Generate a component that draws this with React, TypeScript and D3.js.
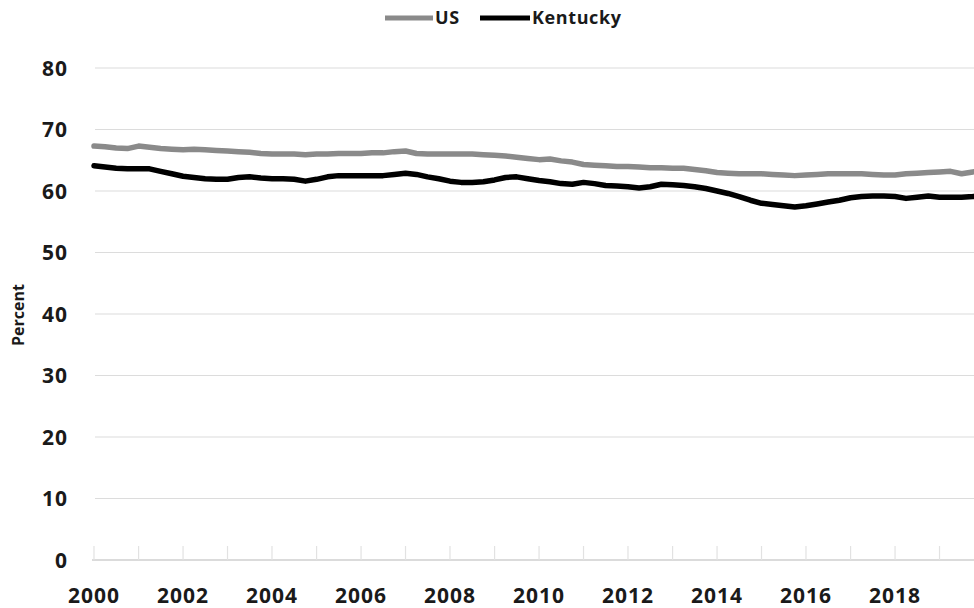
import React from 'react';
import * as d3 from 'd3';

const seriesNames = ['US', 'Kentucky'];
const seriesColors = ['#8a8a8a', '#000000'];

// Quarterly readings (Jan, Apr, Jul, Oct of each year 2000-2019) plus Dec 2019
const usValues = [
  67.3, 67.2, 67.0, 66.9,
  67.3, 67.1, 66.9, 66.8,
  66.7, 66.8, 66.7, 66.6,
  66.5, 66.4, 66.3, 66.1,
  66.0, 66.0, 66.0, 65.9,
  66.0, 66.0, 66.1, 66.1,
  66.1, 66.2, 66.2, 66.4,
  66.5, 66.1, 66.0, 66.0,
  66.0, 66.0, 66.0, 65.9,
  65.8, 65.7, 65.5, 65.3,
  65.1, 65.2, 64.9, 64.7,
  64.3, 64.2, 64.1, 64.0,
  64.0, 63.9, 63.8, 63.8,
  63.7, 63.7, 63.5, 63.3,
  63.0, 62.9, 62.8, 62.8,
  62.8, 62.7, 62.6, 62.5,
  62.6, 62.7, 62.8, 62.8,
  62.8, 62.8, 62.7, 62.6,
  62.6, 62.8, 62.9, 63.0,
  63.1, 63.2, 62.8, 63.1,
  63.2,
];

const kyValues = [
  64.1, 63.9, 63.7, 63.6,
  63.6, 63.6, 63.2, 62.8,
  62.4, 62.2, 62.0, 61.9,
  61.9, 62.2, 62.3, 62.1,
  62.0, 62.0, 61.9, 61.6,
  61.9, 62.3, 62.5, 62.5,
  62.5, 62.5, 62.5, 62.7,
  62.9, 62.7, 62.3, 62.0,
  61.6, 61.4, 61.4, 61.5,
  61.8, 62.2, 62.3, 62.0,
  61.7, 61.5, 61.2, 61.1,
  61.4, 61.2, 60.9, 60.8,
  60.7, 60.5, 60.7, 61.1,
  61.0, 60.9, 60.7, 60.4,
  60.0, 59.6, 59.1, 58.5,
  58.0, 57.8, 57.6, 57.4,
  57.6, 57.9, 58.2, 58.5,
  58.9, 59.1, 59.2, 59.2,
  59.1, 58.8, 59.0, 59.2,
  59.0, 59.0, 59.0, 59.1,
  59.2,
];

const yTicks = [0, 10, 20, 30, 40, 50, 60, 70, 80];
const xLabelYears = [2000, 2002, 2004, 2006, 2008, 2010, 2012, 2014, 2016, 2018];
const tickYears = [2000, 2001, 2002, 2003, 2004, 2005, 2006, 2007, 2008, 2009, 2010,
  2011, 2012, 2013, 2014, 2015, 2016, 2017, 2018, 2019];

const dates = usValues.map((_, i) =>
  i < 80 ? new Date(2000 + Math.floor(i / 4), (i % 4) * 3, 1) : new Date(2019, 11, 1)
);

const W = 974;
const H = 608;
const FONT = '"Open Sans", "Liberation Sans", sans-serif';

export default function App() {
  const x = d3.scaleTime()
    .domain([new Date(2000, 0, 1), new Date(2020, 0, 1)])
    .range([94, 984]);
  const y = d3.scaleLinear().domain([0, 80]).range([560, 68]);

  const line = d3.line<number>()
    .x((_, i) => x(dates[i]))
    .y((d) => y(d))
    .curve(d3.curveLinear);

  const series = [usValues, kyValues];

  return (
    <svg width={W} height={H} style={{ position: 'absolute', left: 0, top: 0, background: '#fff' }}>
      <rect x={0} y={0} width={W} height={H} fill="#fff" />
      {yTicks.map((t) => (
        <g key={t}>
          {t > 0 && (
            <line x1={95} x2={W} y1={y(t)} y2={y(t)} stroke="#dcdcdc" strokeWidth={1.2} />
          )}
          <text
            x={68}
            y={y(t)}
            dy="0.36em"
            textAnchor="end"
            fontFamily={FONT}
            fontWeight={700}
            fontSize={21}
            letterSpacing={1}
            fill="#1a1a1a"
          >
            {t}
          </text>
        </g>
      ))}
      <line x1={92} x2={W} y1={y(0)} y2={y(0)} stroke="#cfcfcf" strokeWidth={1.4} />
      {tickYears.map((yr) => (
        <line
          key={yr}
          x1={x(new Date(yr, 0, 1))}
          x2={x(new Date(yr, 0, 1))}
          y1={y(0)}
          y2={y(0) - 14}
          stroke="#e2e2e2"
          strokeWidth={1.2}
        />
      ))}
      {xLabelYears.map((yr) => (
        <text
          key={yr}
          x={x(new Date(yr, 0, 1))}
          y={603}
          textAnchor="middle"
          fontFamily={FONT}
          fontWeight={700}
          fontSize={21}
          letterSpacing={1}
          fill="#1a1a1a"
        >
          {yr}
        </text>
      ))}
      <text
        transform={`translate(24, 315) rotate(-90)`}
        textAnchor="middle"
        fontFamily={FONT}
        fontWeight={700}
        fontSize={16}
        fill="#1a1a1a"
      >
        Percent
      </text>
      {series.map((vals, k) => (
        <path
          key={k}
          d={line(vals) || ''}
          fill="none"
          stroke={seriesColors[k]}
          strokeWidth={5.5}
          strokeLinejoin="round"
          strokeLinecap="round"
        />
      ))}
      {/* Legend */}
      <g>
        <line x1={385} x2={433} y1={18} y2={18} stroke={seriesColors[0]} strokeWidth={5} />
        <text x={435} y={18} dy="0.36em" fontFamily={FONT} fontWeight={700} fontSize={18}
          letterSpacing={0.6} fill="#1a1a1a">
          {seriesNames[0]}
        </text>
        <line x1={480} x2={530} y1={18} y2={18} stroke={seriesColors[1]} strokeWidth={5} />
        <text x={532} y={18} dy="0.36em" fontFamily={FONT} fontWeight={700} fontSize={18}
          letterSpacing={0.6} fill="#1a1a1a">
          {seriesNames[1]}
        </text>
      </g>
    </svg>
  );
}
